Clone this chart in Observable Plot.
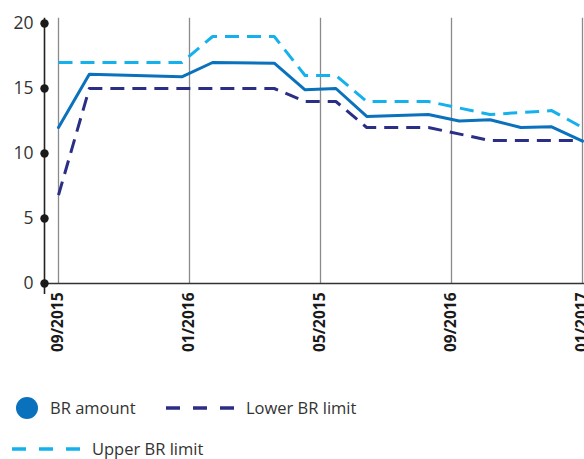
<!DOCTYPE html>
<html><head><meta charset="utf-8">
<script src="https://cdn.jsdelivr.net/npm/d3@7"></script>
<script src="https://cdn.jsdelivr.net/npm/@observablehq/plot@0.6"></script>
<style>
body{margin:0;background:#fff;font-family:"Open Sans",sans-serif;}
#legend{position:relative;width:584px;height:99px;}
</style>
</head><body><div id="chart"></div><div id="legend"></div><script>
// period index (equal spacing)
const periods = [0,1,2,3,4,5,6,7,8,9,10,11,12,13,14,15,16,17];
const brAmount = [12.0,16.1,null,null,15.9,17.0,null,16.95,14.9,15.0,12.85,null,13.0,12.5,12.6,12.0,12.05,10.95];
const upperLimit = [17,null,null,null,17,19,null,19,16,16,14,null,14,null,13,null,13.3,12];
const lowerLimit = [6.8,15,null,null,null,null,null,15,14,14,12,null,12,null,11,null,null,11];
const xTickPositions = [0,4.25,8.5,12.75,17];
const xTickLabels = ["09/2015","01/2016","05/2015","09/2016","01/2017"];
const yTicks = [0,5,10,15,20];

const colors = {br:"#0a72bc", upper:"#14b1ec", lower:"#2b2e85"};

function series(values){
  return periods.map((p,i)=>({x:p,y:values[i]})).filter(d=>d.y!=null);
}

const xDomain = [-0.454, 17.065];
const chart = Plot.plot({
  width:584, height:360,
  marginLeft:44, marginRight:0, marginTop:23, marginBottom:77,
  x:{domain:xDomain, axis:null},
  y:{domain:[0,20], axis:null},
  style:{fontFamily:"Open Sans, sans-serif", background:"#fff"},
  marks:[
    Plot.ruleX(xTickPositions,{y1:0,y2:20.4,stroke:"#8a8a8a",strokeWidth:1.3}),
    Plot.ruleY([0],{stroke:"#333",strokeWidth:1.3}),
    Plot.ruleX([xDomain[0]],{y1:-0.85,y2:20.4,stroke:"#222",strokeWidth:1.6}),
    Plot.dot(yTicks,{x:()=>xDomain[0],y:d=>d,r:4.2,fill:"#1a1a1a",stroke:null}),
    Plot.text(yTicks,{x:()=>xDomain[0],y:d=>d,text:d=>String(d),dx:-11,textAnchor:"end",fontSize:17.5,fill:"#333"}),
    Plot.text(xTickPositions,{x:d=>d,y:0,text:(d,i)=>xTickLabels[i],rotate:-90,textAnchor:"end",dy:9,fontSize:15.5,fontWeight:"bold",fill:"#1a1a1a",lineAnchor:"middle"}),
    Plot.line(series(upperLimit),{x:"x",y:"y",stroke:colors.upper,strokeWidth:3,strokeDasharray:"14,8",strokeLinecap:"butt",strokeLinejoin:"round"}),
    Plot.line(series(lowerLimit),{x:"x",y:"y",stroke:colors.lower,strokeWidth:3,strokeDasharray:"14,8",strokeLinecap:"butt",strokeLinejoin:"round"}),
    Plot.line(series(brAmount),{x:"x",y:"y",stroke:colors.br,strokeWidth:3,strokeLinejoin:"round"})
  ]
});
document.getElementById("chart").appendChild(chart);

// Legend
const legendItems = [
  {label:"BR amount", kind:"dot", color:colors.br, x:16, y:48},
  {label:"Lower BR limit", kind:"dash", color:colors.lower, x:166, y:48},
  {label:"Upper BR limit", kind:"dash", color:colors.upper, x:12, y:89}
];
const lg = d3.select("#legend").append("svg").attr("width",584).attr("height",99);
for (const it of legendItems){
  const g = lg.append("g");
  if (it.kind==="dot"){
    g.append("circle").attr("cx",it.x+11).attr("cy",it.y).attr("r",11).attr("fill",it.color);
    g.append("text").attr("x",it.x+34).attr("y",it.y).attr("dy","0.35em").attr("font-size",16.5).attr("fill","#333").attr("font-family","Open Sans, sans-serif").text(it.label);
  } else {
    g.append("line").attr("x1",it.x).attr("x2",it.x+69).attr("y1",it.y).attr("y2",it.y).attr("stroke",it.color).attr("stroke-width",3.5).attr("stroke-dasharray","14,13");
    g.append("text").attr("x",it.x+80).attr("y",it.y).attr("dy","0.35em").attr("font-size",16.5).attr("fill","#333").attr("font-family","Open Sans, sans-serif").text(it.label);
  }
}
</script></body></html>
